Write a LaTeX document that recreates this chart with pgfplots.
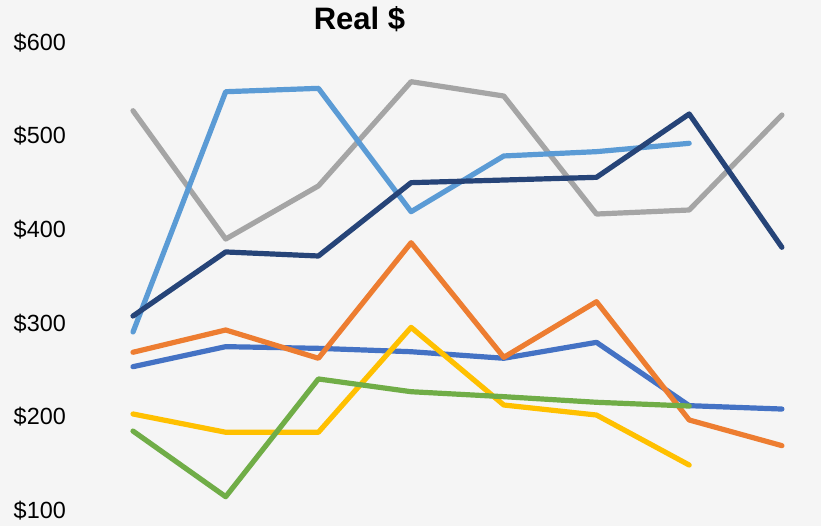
\documentclass[border=0pt]{standalone}
\usepackage{fontspec}
\setmainfont{Liberation Sans}
\usepackage{pgfplots}
\pgfplotsset{compat=1.18}
\definecolor{bg}{HTML}{F5F5F5}
\definecolor{cBlue}{HTML}{4472C4}
\definecolor{cOrange}{HTML}{ED7D31}
\definecolor{cGray}{HTML}{A5A5A5}
\definecolor{cGold}{HTML}{FFC000}
\definecolor{cLight}{HTML}{5B9BD5}
\definecolor{cGreen}{HTML}{70AD47}
\definecolor{cNavy}{HTML}{264478}
\begin{document}
\begin{tikzpicture}
\path[use as bounding box] (0,0) rectangle (821bp,526bp);
\fill[bg] (0,0) rectangle (821bp,526bp);
\node[anchor=base, font=\fontsize{31bp}{36bp}\selectfont\bfseries] at (359.5bp,496bp) {Real \$};
\begin{axis}[
  at={(66bp,16bp)}, anchor=south west,
  scale only axis, width=755bp, height=468.3bp,
  xmin=-0.7228, xmax=7.4218, ymin=100, ymax=600,
  clip=false,
  axis line style={draw=none}, tick style={draw=none},
  xtick=\empty,
  ytick={100,200,300,400,500,600},
  yticklabels={\$100,\$200,\$300,\$400,\$500,\$600},
  yticklabel style={anchor=base east, inner sep=0pt, yshift=-8.4bp, font=\fontsize{23.4bp}{28bp}\selectfont},
  every axis plot/.append style={line width=5.2bp, line join=round, line cap=round, mark=none},
]
\addplot[cBlue] coordinates {(0,253) (1,274.4) (2,272.6) (3,269) (4,262) (5,279) (6,211.4) (7,207.8)};
\addplot[cOrange] coordinates {(0,268.4) (1,292.2) (2,262) (3,385.4) (4,263) (5,322.4) (6,196.1) (7,168.7)};
\addplot[cGray] coordinates {(0,526.3) (1,389.3) (2,446) (3,557.3) (4,542) (5,416) (6,420.3) (7,521.7)};
\addplot[cGold] coordinates {(0,202.5) (1,183) (2,183) (3,295) (4,212.1) (5,201.4) (6,148)};
\addplot[cLight] coordinates {(0,290) (1,546.6) (2,550.2) (3,418.5) (4,478) (5,482.6) (6,491.5)};
\addplot[cGreen] coordinates {(0,184.3) (1,114.2) (2,239.9) (3,226.3) (4,221) (5,215) (6,211)};
\addplot[cNavy] coordinates {(0,307.1) (1,375.5) (2,371.2) (3,449.5) (4,452.3) (5,455.2) (6,522.8) (7,380.5)};
\end{axis}
\end{tikzpicture}
\end{document}
